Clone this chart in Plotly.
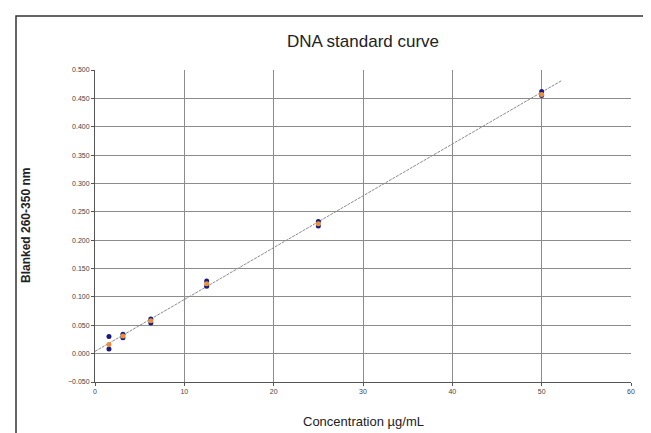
import plotly.graph_objects as go

conc = [1.5625, 3.125, 6.25, 12.5, 25, 50]
rep_a = [0.030, 0.034, 0.061, 0.128, 0.233, 0.462]
rep_b = [0.008, 0.028, 0.054, 0.119, 0.225, 0.455]
mean_abs = [0.016, 0.031, 0.058, 0.123, 0.229, 0.457]
trend_x = [0, 52.2]
trend_y = [0.004, 0.481]

x_ticks = [0, 10, 20, 30, 40, 50, 60]
y_ticks = [-0.05, 0, 0.05, 0.1, 0.15, 0.2, 0.25, 0.3, 0.35, 0.4, 0.45, 0.5]

fig = go.Figure()
fig.add_trace(go.Scatter(x=trend_x, y=trend_y, mode="lines",
                         line=dict(color="#8a8a8a", width=1, dash="3px,1px"),
                         showlegend=False, hoverinfo="skip"))
fig.add_trace(go.Scatter(x=conc, y=rep_a, mode="markers",
                         marker=dict(color="#1a1a80", size=5), showlegend=False))
fig.add_trace(go.Scatter(x=conc, y=rep_b, mode="markers",
                         marker=dict(color="#1a1a80", size=5), showlegend=False))
fig.add_trace(go.Scatter(x=conc, y=mean_abs, mode="markers",
                         marker=dict(color="#e8913a", size=5), showlegend=False))

axis_common = dict(
    showgrid=True, gridcolor="#8c8c8c", gridwidth=1,
    showline=True, linecolor="#555555", linewidth=1,
    ticks="outside", ticklen=3, tickcolor="#555555",
    tickfont=dict(family="Liberation Sans, Arial", size=7, color="#444444"),
    zeroline=False, mirror=False,
)

fig.update_xaxes(range=[0, 60], tickvals=x_ticks, **axis_common)
fig.update_yaxes(range=[-0.05, 0.5], tickvals=y_ticks, tickformat=".3f", **axis_common)

fig.update_layout(
    width=651, height=433,
    margin=dict(l=87, r=28, t=62, b=59),
    paper_bgcolor="white", plot_bgcolor="white",
    font=dict(family="Liberation Sans, Arial", color="#222222"),
    title=dict(text="DNA standard curve", x=0.5, xref="paper",
               y=1 - 33 / 433, yref="container", yanchor="middle",
               font=dict(size=17, color="#222222")),
    showlegend=False,
    annotations=[
        dict(text="Concentration µg/mL", xref="paper", yref="paper",
             x=0.5, y=-(413 - 374) / 312, showarrow=False,
             yanchor="middle", xanchor="center",
             font=dict(size=13, color="#222222")),
        dict(text="<b>Blanked 260-350 nm</b>", xref="paper", yref="paper",
             x=(18 - 87) / 536, y=0.5, showarrow=False, textangle=-90,
             xanchor="center", yanchor="middle",
             font=dict(size=12, color="#222222")),
    ],
    shapes=[
        dict(type="rect", xref="paper", yref="paper",
             x0=(8 - 87) / 536, x1=(643 - 87) / 536,
             y0=-0.3, y1=1 + (62 - 8) / 312,
             line=dict(color="#333333", width=1.5), layer="below"),
    ],
)

fig.write_html("out.html")
